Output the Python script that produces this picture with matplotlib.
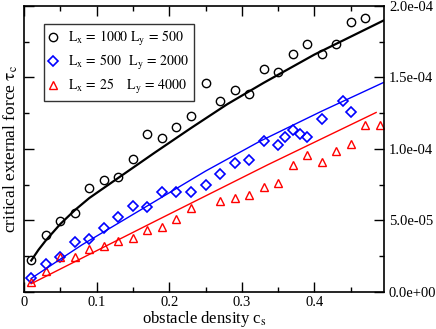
import numpy as np
import matplotlib
matplotlib.use("Agg")
import matplotlib.pyplot as plt
from matplotlib.ticker import MultipleLocator, FormatStrFormatter

plt.rcParams['font.family'] = ['Liberation Serif', 'DejaVu Serif']
plt.rcParams['mathtext.fontset'] = 'stix'

# ---- data ----
# Lx = 1000, Ly = 500 (black circles)
c_black = [0.01, 0.03, 0.05, 0.07, 0.09, 0.11, 0.13, 0.15, 0.17, 0.19, 0.21, 0.23,
           0.25, 0.27, 0.29, 0.31, 0.33, 0.35, 0.37, 0.39, 0.41, 0.43, 0.45, 0.47]
tau_black = [2.22e-5, 3.98e-5, 4.99e-5, 5.5e-5, 7.3e-5, 7.8e-5, 8.06e-5, 9.3e-5,
             1.105e-4, 1.08e-4, 1.156e-4, 1.232e-4, 1.461e-4, 1.335e-4, 1.412e-4,
             1.384e-4, 1.56e-4, 1.537e-4, 1.662e-4, 1.737e-4, 1.662e-4, 1.737e-4,
             1.89e-4, 1.914e-4]
fit_c_black = [0.01, 0.02, 0.03, 0.05, 0.07, 0.09, 0.13, 0.18, 0.23, 0.28, 0.33, 0.40, 0.50]
fit_tau_black = [2.2e-5, 2.95e-5, 3.6e-5, 4.75e-5, 5.72e-5, 6.57e-5, 7.98e-5, 9.74e-5,
                 1.146e-4, 1.313e-4, 1.462e-4, 1.66e-4, 1.91e-4]

# Lx = 500, Ly = 2000 (blue diamonds)
c_blue = [0.01, 0.03, 0.05, 0.07, 0.09, 0.11, 0.13, 0.15, 0.17, 0.19, 0.21, 0.23, 0.25,
          0.27, 0.29, 0.31, 0.33, 0.35, 0.36, 0.37, 0.38, 0.39, 0.41, 0.44, 0.45]
tau_blue = [9.7e-6, 1.96e-5, 2.47e-5, 3.48e-5, 3.72e-5, 4.47e-5, 5.25e-5, 6.0e-5, 5.97e-5,
            7.01e-5, 7.01e-5, 7.01e-5, 7.5e-5, 8.26e-5, 9.02e-5, 9.25e-5, 1.054e-4,
            1.03e-4, 1.082e-4, 1.132e-4, 1.107e-4, 1.082e-4, 1.208e-4, 1.333e-4, 1.256e-4]
fit_c_blue = [0.01, 0.08, 0.16, 0.25, 0.325, 0.41, 0.50]
fit_tau_blue = [9.5e-6, 3.3e-5, 5.72e-5, 8.45e-5, 1.054e-4, 1.264e-4, 1.476e-4]

# Lx = 25, Ly = 4000 (red triangles)
c_red = [0.01, 0.03, 0.05, 0.07, 0.09, 0.11, 0.13, 0.15, 0.17, 0.19, 0.21, 0.23,
         0.27, 0.29, 0.31, 0.33, 0.35, 0.37, 0.39, 0.41, 0.43, 0.45, 0.47, 0.49]
tau_red = [7.3e-6, 1.48e-5, 2.47e-5, 2.47e-5, 3.0e-5, 3.25e-5, 3.53e-5, 3.79e-5, 4.31e-5,
           4.54e-5, 5.07e-5, 5.84e-5, 6.35e-5, 6.58e-5, 6.8e-5, 7.32e-5, 7.61e-5,
           8.87e-5, 9.6e-5, 9.09e-5, 9.86e-5, 1.037e-4, 1.164e-4, 1.164e-4]
fit_c_red = [0.01, 0.185, 0.336, 0.485]
fit_tau_red = [5.8e-6, 5.06e-5, 8.9e-5, 1.255e-4]

# \enspace is one digit wide, so the L_y column lines up
labels = [r'$\mathrm{L_x\,=\,1000\ L_y\,=\,500}$',
          r'$\mathrm{L_x\,=\,500\enspace\ L_y\,=\,2000}$',
          r'$\mathrm{L_x\,=\,25\enspace\enspace\ L_y\,=\,4000}$']
xticks = [0, 0.1, 0.2, 0.3, 0.4]
xtick_labels = ['0', '0.1', '0.2', '0.3', '0.4']

fig = plt.figure(figsize=(4.36, 3.29), dpi=100)
ax = fig.add_axes([0.055, 0.1125, 0.826, 0.8695])

ax.plot(c_black, tau_black, 'o', ms=6, mfc='none', mec='black', mew=1.0, label=labels[0])
ax.plot(c_blue, tau_blue, 'D', ms=4.6, mfc='none', mec='blue', mew=1.2, label=labels[1])
ax.plot(c_red, tau_red, '^', ms=6, mfc='none', mec='red', mew=1.0, label=labels[2])

ax.plot(fit_c_black, fit_tau_black, '-', color='black', lw=1.6)
ax.plot(fit_c_blue, fit_tau_blue, '-', color='blue', lw=1.0)
ax.plot(fit_c_red, fit_tau_red, '-', color='red', lw=1.0)

ax.set_xlim(0, 0.496)
ax.set_ylim(0, 2.0e-4)
ax.set_xticks(xticks)
ax.set_xticklabels(xtick_labels)
ax.xaxis.set_minor_locator(MultipleLocator(0.05))
ax.yaxis.set_major_locator(MultipleLocator(5e-5))
ax.yaxis.set_minor_locator(MultipleLocator(2.5e-5))
ax.yaxis.set_major_formatter(FormatStrFormatter('%.1e'))

ax.tick_params(which='both', direction='in', top=True, right=True,
               labelleft=False, labelright=True, labelsize=10.5, width=1.0)
ax.tick_params(which='major', length=7)
ax.tick_params(which='minor', length=3.5)
ax.tick_params(axis='x', pad=3)
for s in ax.spines.values():
    s.set_linewidth(1.2)

ax.set_xlabel(r'obstacle density c$_\mathrm{s}$', fontsize=12)
ax.set_ylabel(r'critical external force $\mathrm{\tau}_\mathrm{c}$', fontsize=12.5)
ax.xaxis.set_label_coords(0.5, -0.058)
ax.yaxis.set_label_coords(-0.012, 0.50)

leg = ax.legend(loc='upper left', bbox_to_anchor=(0.0556, 0.937), borderaxespad=0,
                fontsize=10, frameon=True, fancybox=False, handlelength=0.6,
                handletextpad=0.75, labelspacing=0.36, borderpad=0.38)
leg.get_frame().set_edgecolor('black')
leg.get_frame().set_linewidth(1.0)

fig.savefig('out.png', dpi=100)
